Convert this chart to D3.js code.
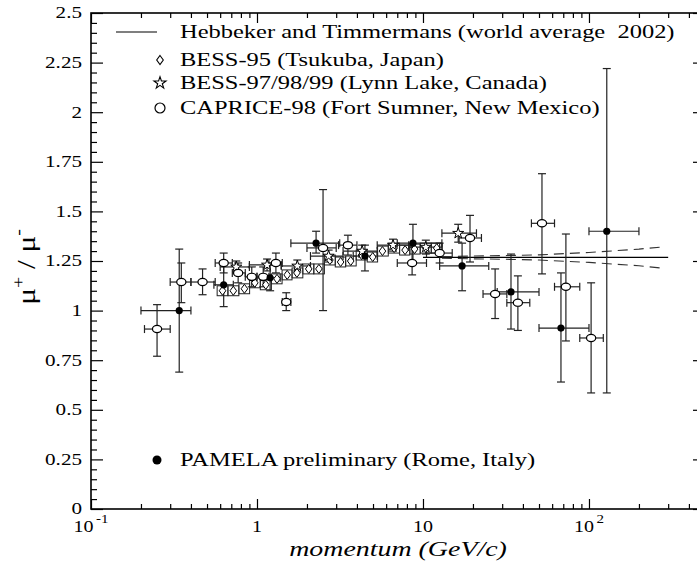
<!DOCTYPE html>
<html>
<head>
<meta charset="utf-8">
<script src="https://cdn.jsdelivr.net/npm/d3@7"></script>
<style>
  body { margin: 0; background: #fff; }
  text { font-family: "Liberation Serif", "Times New Roman", serif; white-space: pre; }
</style>
</head>
<body>
<script>
"use strict";

/* global d3 */

// ---- data ----

// PAMELA preliminary (filled circles)
var pamelaP   = [0.34, 0.63, 1.20, 2.27, 4.47, 8.7, 17.2, 33.9, 67.8, 128];
var pamelaR   = [1.00, 1.13, 1.165, 1.34, 1.275, 1.34, 1.225, 1.094, 0.912, 1.40];
var pamelaLo  = [0.69, 1.02, 1.10, 1.29, 1.20, 1.245, 1.10, 0.907, 0.64, 0.585];
var pamelaHi  = [1.31, 1.25, 1.23, 1.40, 1.33, 1.435, 1.34, 1.285, 1.19, 2.22];
var pamelaPLo = [0.20, 0.55, 1.05, 1.6, 3.8, 7.0, 12.6, 28, 50, 100];
var pamelaPHi = [0.40, 0.72, 1.38, 3.15, 5.3, 13, 24.9, 50, 100, 200];

// CAPRICE-98 (open circles)
var capriceP   = [0.25, 0.35, 0.47, 0.63, 0.77, 0.93, 1.09, 1.30, 1.50, 2.5, 3.53, 8.6, 12.6, 19.2, 27.2, 37.3, 52.1, 72.6, 103];
var capriceR   = [0.907, 1.144, 1.144, 1.24, 1.19, 1.17, 1.17, 1.24, 1.043, 1.316, 1.33, 1.24, 1.29, 1.366, 1.084, 1.04, 1.44, 1.12, 0.862];
var capriceLo  = [0.77, 1.04, 1.08, 1.19, 1.14, 1.12, 1.12, 1.19, 1.00, 1.00, 1.28, 1.18, 1.24, 1.245, 0.96, 0.90, 1.185, 0.847, 0.585];
var capriceHi  = [1.03, 1.24, 1.21, 1.29, 1.24, 1.22, 1.22, 1.29, 1.09, 1.61, 1.38, 1.32, 1.34, 1.48, 1.21, 1.175, 1.69, 1.386, 1.14];
var capricePLo = [0.21, 0.30, 0.40, 0.56, 0.71, 0.85, 1.0, 1.18, 1.42, 2.0, 3.1, 7.0, 10.5, 16.5, 23, 32, 45, 62, 88];
var capricePHi = [0.30, 0.40, 0.56, 0.71, 0.85, 1.0, 1.18, 1.42, 1.6, 3.0, 4.0, 10.5, 15, 22.5, 32, 44, 62, 88, 122];

// BESS-95 (diamonds)
var bess95P   = [0.62, 0.72, 0.84, 0.97, 1.13, 1.32, 1.52, 1.74, 2.05, 2.36, 2.75, 3.19, 3.67, 4.27, 4.98, 5.7, 6.7, 7.8, 8.9, 10.4, 12.1];
var bess95R   = [1.10, 1.10, 1.11, 1.14, 1.13, 1.16, 1.18, 1.19, 1.21, 1.21, 1.255, 1.245, 1.25, 1.28, 1.27, 1.30, 1.315, 1.305, 1.31, 1.315, 1.315];
var bess95Err = [0.025, 0.025, 0.025, 0.025, 0.025, 0.025, 0.025, 0.025, 0.025, 0.025, 0.025, 0.025, 0.025, 0.025, 0.025, 0.025, 0.025, 0.025, 0.025, 0.025, 0.025];

// BESS-97/98/99 (stars)
var bess97P   = [0.75, 1.15, 1.75, 2.7, 4.3, 6.6, 10.4, 16.3];
var bess97R   = [1.22, 1.23, 1.225, 1.275, 1.30, 1.33, 1.32, 1.39];
var bess97Err = [0.03, 0.03, 0.03, 0.03, 0.03, 0.03, 0.035, 0.045];
var bess97PLo = [0.6, 0.9, 1.4, 2.1, 3.3, 5.3, 8.2, 13];
var bess97PHi = [0.9, 1.4, 2.1, 3.3, 5.3, 8.2, 13, 21];

// Hebbeker and Timmermans world average and its band
var htP = [10, 300];
var htR = [1.268, 1.268];
var bandP  = [13, 20, 30, 50, 100, 200, 270];
var bandUp = [1.272, 1.275, 1.277, 1.281, 1.293, 1.31, 1.32];
var bandDn = [1.264, 1.261, 1.259, 1.255, 1.243, 1.226, 1.215];

var xMajor = [0.1, 1, 10, 100];
var xMajorLabels = [["10", "-1"], ["1", ""], ["10", ""], ["10", "2"]];
var yMajor = [0, 0.25, 0.5, 0.75, 1, 1.25, 1.5, 1.75, 2, 2.25, 2.5];
var yMajorLabels = ["0", "0.25", "0.5", "0.75", "1", "1.25", "1.5", "1.75", "2", "2.25", "2.5"];

var legendRows = [
    { type: "line",    text: "Hebbeker and Timmermans (world average  2002)" },
    { type: "diamond", text: "BESS-95 (Tsukuba, Japan)" },
    { type: "star",    text: "BESS-97/98/99 (Lynn Lake, Canada)" },
    { type: "circle",  text: "CAPRICE-98 (Fort Sumner, New Mexico)" }
];
var pamelaLegend = "PAMELA preliminary (Rome, Italy)";


// ---- layout ----

var W = 697, H = 564;
var plot = { left: 91, right: 705, top: 13, bottom: 509 };
var stretch = 1.36;   // the reference type is drawn wide

var svg = d3.select("body").append("svg").attr("width", W).attr("height", H);

var x = d3.scaleLog().domain([0.1, 500]).range([plot.left, plot.right]);
var y = d3.scaleLinear().domain([0, 2.5]).range([plot.bottom, plot.top]);

var xMinor = [];
xMajor.forEach(function(d) {
    for (var k = 2; k <= 9; k++) { if (k * d <= 500) xMinor.push(k * d); }
});
var yMinor = d3.range(0, 2.5001, 0.05).filter(function(v) {
    return Math.abs(v / 0.25 - Math.round(v / 0.25)) > 1e-6;
});

function noDomain(g) { g.select(".domain").remove(); g.selectAll("text").remove(); }

// text placed at (tx, ty) and stretched sideways like the reference
function wideText(parent, tx, ty, sx) {
    return parent.append("text")
       .attr("transform", "translate(" + tx + "," + ty + ") scale(" + sx + ",1)");
}

// ticks, all pointing inward
svg.append("g").attr("transform", "translate(0," + plot.bottom + ")")
   .call(d3.axisBottom(x).tickValues(xMajor).tickSize(-10).tickFormat("")).call(noDomain);
svg.append("g").attr("transform", "translate(0," + plot.bottom + ")")
   .call(d3.axisBottom(x).tickValues(xMinor).tickSize(-5).tickFormat("")).call(noDomain);
svg.append("g").attr("transform", "translate(0," + plot.top + ")")
   .call(d3.axisTop(x).tickValues(xMajor).tickSize(-10).tickFormat("")).call(noDomain);
svg.append("g").attr("transform", "translate(0," + plot.top + ")")
   .call(d3.axisTop(x).tickValues(xMinor).tickSize(-5).tickFormat("")).call(noDomain);
svg.append("g").attr("transform", "translate(" + plot.left + ",0)")
   .call(d3.axisLeft(y).tickValues(yMajor).tickSize(-12).tickFormat("")).call(noDomain);
svg.append("g").attr("transform", "translate(" + plot.left + ",0)")
   .call(d3.axisLeft(y).tickValues(yMinor).tickSize(-6).tickFormat("")).call(noDomain);
svg.append("g").attr("transform", "translate(" + plot.right + ",0)")
   .call(d3.axisRight(y).tickValues(yMajor).tickSize(-12).tickFormat("")).call(noDomain);
svg.append("g").attr("transform", "translate(" + plot.right + ",0)")
   .call(d3.axisRight(y).tickValues(yMinor).tickSize(-6).tickFormat("")).call(noDomain);

svg.selectAll(".tick line").attr("stroke", "#000").attr("stroke-width", 1.2);

svg.append("rect")
   .attr("x", plot.left).attr("y", plot.top)
   .attr("width", plot.right - plot.left).attr("height", plot.bottom - plot.top)
   .attr("fill", "none").attr("stroke", "#000").attr("stroke-width", 1.6);

// tick labels
var labelGroup = svg.append("g");
xMajor.forEach(function(d, i) {
    var t = wideText(labelGroup, x(d), 532, 1.25)
       .attr("font-size", "16px")
       .attr("text-anchor", "middle");
    t.append("tspan").text(xMajorLabels[i][0]);
    if (xMajorLabels[i][1]) {
        t.append("tspan").attr("dx", 2).attr("dy", -9).attr("font-size", "12px").text(xMajorLabels[i][1]);
    }
});

yMajor.forEach(function(d, i) {
    wideText(labelGroup, 82, y(d), 1.28)
       .attr("dy", "0.33em")
       .attr("font-size", "16.5px")
       .attr("text-anchor", "end")
       .text(yMajorLabels[i]);
});

// axis titles
wideText(svg, 398, 556, 1.33)
   .attr("text-anchor", "middle")
   .attr("font-size", "21px")
   .attr("font-style", "italic")
   .text("momentum (GeV/c)");

var yt = svg.append("text")
   .attr("transform", "translate(35,267) rotate(-90) scale(1.25,1)")
   .attr("text-anchor", "middle")
   .attr("font-family", "'Liberation Sans', Arial, sans-serif")
   .attr("font-size", "25px");
yt.append("tspan").text("\u03bc");
yt.append("tspan").attr("dy", -11).attr("font-size", "16px").text("+");
yt.append("tspan").attr("dy", 11).text(" / \u03bc");
yt.append("tspan").attr("dy", -11).attr("font-size", "16px").text("-");


// ---- world average line and band ----

var line = d3.line()
   .x(function(d) { return x(d[0]); })
   .y(function(d) { return y(d[1]); });

svg.append("path")
   .attr("d", line(d3.zip(htP, htR)))
   .attr("fill", "none").attr("stroke", "#000").attr("stroke-width", 1.2);

[bandUp, bandDn].forEach(function(band) {
    svg.append("path")
       .attr("d", line(d3.zip(bandP, band)))
       .attr("fill", "none").attr("stroke", "#333").attr("stroke-width", 1.1)
       .attr("stroke-dasharray", "10,6");
});


// ---- error bars and markers ----

var bars = svg.append("g").attr("stroke", "#222").attr("stroke-width", 1.2).attr("fill", "none");

function errorBars(p, r, lo, hi, pLo, pHi) {
    var cap = 4;
    p.forEach(function(d, i) {
        var cx = x(d), cy = y(r[i]);
        if (lo) {
            bars.append("line").attr("x1", cx).attr("x2", cx).attr("y1", y(lo[i])).attr("y2", y(hi[i]));
            bars.append("line").attr("x1", cx - cap).attr("x2", cx + cap).attr("y1", y(lo[i])).attr("y2", y(lo[i]));
            bars.append("line").attr("x1", cx - cap).attr("x2", cx + cap).attr("y1", y(hi[i])).attr("y2", y(hi[i]));
        }
        if (pLo) {
            bars.append("line").attr("x1", x(pLo[i])).attr("x2", x(pHi[i])).attr("y1", cy).attr("y2", cy);
            bars.append("line").attr("x1", x(pLo[i])).attr("x2", x(pLo[i])).attr("y1", cy - cap).attr("y2", cy + cap);
            bars.append("line").attr("x1", x(pHi[i])).attr("x2", x(pHi[i])).attr("y1", cy - cap).attr("y2", cy + cap);
        }
    });
}

function boxes(p, r, err, pLo, pHi) {
    p.forEach(function(d, i) {
        var x0 = x(pLo[i]), x1 = x(pHi[i]);
        bars.append("rect")
           .attr("x", x0).attr("y", y(r[i] + err[i]))
           .attr("width", x1 - x0).attr("height", y(r[i] - err[i]) - y(r[i] + err[i]))
           .attr("stroke-width", 1);
    });
}

// BESS-95 boxes: bin edges halfway (in log) between neighbours
var bess95Lo = bess95P.map(function(d, i) {
    return i === 0 ? d * d / Math.sqrt(d * bess95P[1]) : Math.sqrt(d * bess95P[i - 1]);
});
var bess95Hi = bess95P.map(function(d, i) {
    var n = bess95P.length;
    return i === n - 1 ? d * d / Math.sqrt(d * bess95P[n - 2]) : Math.sqrt(d * bess95P[i + 1]);
});
boxes(bess95P, bess95R, bess95Err, bess95Lo, bess95Hi);

var bess97Lo = bess97R.map(function(d, i) { return d - bess97Err[i]; });
var bess97Hi = bess97R.map(function(d, i) { return d + bess97Err[i]; });
errorBars(bess97P, bess97R, bess97Lo, bess97Hi, bess97PLo, bess97PHi);
errorBars(capriceP, capriceR, capriceLo, capriceHi, capricePLo, capricePHi);
errorBars(pamelaP, pamelaR, pamelaLo, pamelaHi, pamelaPLo, pamelaPHi);

var diamondPath = "M0,-4.5L3.3,0L0,4.5L-3.3,0Z";
var starPath = d3.symbol().type(d3.symbolStar).size(38)();

var marks = svg.append("g");

marks.selectAll(".bess95")
   .data(d3.zip(bess95P, bess95R))
   .enter()
   .append("path")
     .attr("d", diamondPath)
     .attr("transform", function(d) { return "translate(" + x(d[0]) + "," + y(d[1]) + ")"; })
     .attr("fill", "#fff").attr("stroke", "#000").attr("stroke-width", 1);

marks.selectAll(".bess97")
   .data(d3.zip(bess97P, bess97R))
   .enter()
   .append("path")
     .attr("d", starPath)
     .attr("transform", function(d) { return "translate(" + x(d[0]) + "," + y(d[1]) + ")"; })
     .attr("fill", "#fff").attr("stroke", "#000").attr("stroke-width", 1);

marks.selectAll(".caprice")
   .data(d3.zip(capriceP, capriceR))
   .enter()
   .append("ellipse")
     .attr("cx", function(d) { return x(d[0]); })
     .attr("cy", function(d) { return y(d[1]); })
     .attr("rx", 4.6).attr("ry", 3.6)
     .attr("fill", "#fff").attr("stroke", "#000").attr("stroke-width", 1.2);

marks.selectAll(".pamela")
   .data(d3.zip(pamelaP, pamelaR))
   .enter()
   .append("circle")
     .attr("cx", function(d) { return x(d[0]); })
     .attr("cy", function(d) { return y(d[1]); })
     .attr("r", 3.6)
     .attr("fill", "#000");


// ---- legend ----

var legendY = [32, 60, 83, 108];
var legend = svg.append("g");

legendRows.forEach(function(row, i) {
    var ly = legendY[i];
    if (row.type === "line") {
        legend.append("line").attr("x1", 116).attr("x2", 157).attr("y1", ly).attr("y2", ly)
           .attr("stroke", "#000").attr("stroke-width", 1.2);
    } else if (row.type === "diamond") {
        legend.append("path").attr("d", diamondPath).attr("transform", "translate(160," + ly + ")")
           .attr("fill", "#fff").attr("stroke", "#000").attr("stroke-width", 1.1);
    } else if (row.type === "star") {
        legend.append("path").attr("d", d3.symbol().type(d3.symbolStar).size(45)())
           .attr("transform", "translate(160," + ly + ")")
           .attr("fill", "#fff").attr("stroke", "#000").attr("stroke-width", 1.1);
    } else {
        legend.append("circle").attr("cx", 160).attr("cy", ly).attr("r", 5)
           .attr("fill", "#fff").attr("stroke", "#000").attr("stroke-width", 1.2);
    }
    wideText(legend, 180, ly, stretch)
       .attr("dy", "0.36em")
       .attr("font-size", "18px")
       .text(row.text);
});

legend.append("circle").attr("cx", 157).attr("cy", 460).attr("r", 4.5).attr("fill", "#000");
wideText(legend, 180, 460, stretch)
   .attr("dy", "0.36em")
   .attr("font-size", "18px")
   .text(pamelaLegend);
</script>
</body>
</html>
